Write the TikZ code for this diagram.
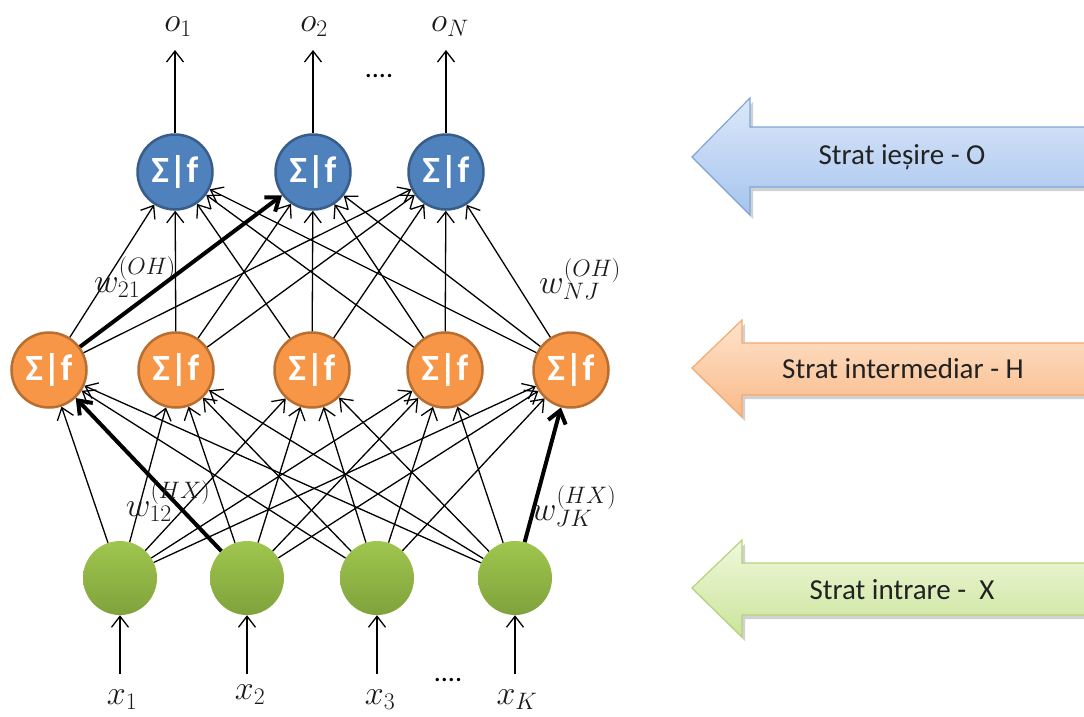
\RequirePackage{fix-cm}
\documentclass[tikz,border=0pt]{standalone}
\usepackage{fontspec}
\setmainfont{Carlito}
\usetikzlibrary{arrows.meta}
\definecolor{bluefill}{HTML}{4F81BD}
\definecolor{blueline}{HTML}{385D8A}
\definecolor{orfill}{HTML}{F79646}
\definecolor{orline}{HTML}{B86E30}
\definecolor{grtop}{HTML}{9FC64E}
\definecolor{grbot}{HTML}{80A23C}
\definecolor{baTop}{HTML}{DCE8F9}
\definecolor{baBot}{HTML}{A6C4EE}
\definecolor{baLine}{HTML}{7EA6D8}
\definecolor{oaTop}{HTML}{FEE3CC}
\definecolor{oaBot}{HTML}{F9BA88}
\definecolor{oaLine}{HTML}{F5A96E}
\definecolor{gaTop}{HTML}{EFF8DC}
\definecolor{gaBot}{HTML}{CBE49A}
\definecolor{gaLine}{HTML}{B4D47A}
\definecolor{txt}{HTML}{222222}
\definecolor{mathcol}{HTML}{1A1A1A}
\begin{document}
\begin{tikzpicture}[x=1pt,y=-1pt,
  neuron/.style={circle,minimum size=75pt,inner sep=0pt,text=white,
    font=\fontsize{37}{39}\selectfont\bfseries},
  outn/.style={neuron,fill=bluefill,draw=blueline,line width=2.5pt},
  hidn/.style={neuron,fill=orfill,draw=orline,line width=2.5pt},
  inn/.style={circle,minimum size=74pt,inner sep=0pt,top color=grtop,bottom color=grbot},
  edge/.style={-{Straight Barb[length=11pt,width=17pt]},line width=1.3pt,black},
  thick edge/.style={-{Straight Barb[length=12pt,width=18pt]},line width=4pt,black},
  mathlbl/.style={font=\fontsize{34}{36}\selectfont,inner sep=0pt,text=mathcol},
  layerlbl/.style={font=\fontsize{29}{31}\selectfont,text=txt,inner sep=0pt},
  dots/.style={font=\fontsize{28}{30}\selectfont,inner sep=0pt}
]
\useasboundingbox (0,0) rectangle (1084,716);

% ---------- block arrows ----------
\fill[black,opacity=.18] (695,161) -- (753,102) -- (753,131) -- (1090,131) -- (1090,191) -- (753,191) -- (753,219) -- cycle;
\shade[top color=baTop,bottom color=baBot] (692,157) -- (750,98) -- (750,127) -- (1090,127) -- (1090,187) -- (750,187) -- (750,215) -- cycle;
\draw[baLine,line width=1.2pt] (1090,127) -- (750,127) -- (750,98) -- (692,157) -- (750,215) -- (750,187) -- (1090,187);
\node[layerlbl] (lo) at (902,157) {Strat ieșire - O};

\fill[black,opacity=.18] (695,372) -- (745,324) -- (745,347) -- (1090,347) -- (1090,399) -- (745,399) -- (745,421) -- cycle;
\shade[top color=oaTop,bottom color=oaBot] (692,368) -- (742,320) -- (742,343) -- (1090,343) -- (1090,395) -- (742,395) -- (742,417) -- cycle;
\draw[oaLine,line width=1.2pt] (1090,343) -- (742,343) -- (742,320) -- (692,368) -- (742,417) -- (742,395) -- (1090,395);
\node[layerlbl] (lh) at (903,369) {Strat intermediar - H};

\fill[black,opacity=.18] (695,592) -- (745,544) -- (745,567) -- (1090,567) -- (1090,619) -- (745,619) -- (745,641) -- cycle;
\shade[top color=gaTop,bottom color=gaBot] (692,588) -- (742,540) -- (742,563) -- (1090,563) -- (1090,615) -- (742,615) -- (742,637) -- cycle;
\draw[gaLine,line width=1.2pt] (1090,563) -- (742,563) -- (742,540) -- (692,588) -- (742,637) -- (742,615) -- (1090,615);
\node[layerlbl] (lx) at (902,590) {Strat intrare -\ \ X};

% ---------- neurons ----------
\node[outn] (o1) at (175,172) {Σ|f};
\node[outn] (o2) at (313,172) {Σ|f};
\node[outn] (o3) at (446,172) {Σ|f};

\node[hidn] (h1) at (49,370) {Σ|f};
\node[hidn] (h2) at (176,370) {Σ|f};
\node[hidn] (h3) at (312,370) {Σ|f};
\node[hidn] (h4) at (445,370) {Σ|f};
\node[hidn] (h5) at (571,370) {Σ|f};

\node[inn] (x1) at (120,578) {};
\node[inn] (x2) at (247,578) {};
\node[inn] (x3) at (377,578) {};
\node[inn] (x4) at (515,578) {};

% ---------- connections ----------
\foreach \i/\j in {1/1,1/2,1/3,1/4,1/5,2/2,2/3,2/4,2/5,3/1,3/2,3/3,3/4,3/5,4/1,4/2,4/3,4/4}
  \draw[edge] (x\i) -- (h\j);
\foreach \i/\j in {1/1,1/3,2/1,2/2,2/3,3/1,3/2,3/3,4/1,4/2,4/3,5/1,5/2,5/3}
  \draw[edge] (h\i) -- (o\j);
\draw[thick edge] (x2) -- (h1);
\draw[thick edge] (x4) -- (h5);
\draw[thick edge] (h1) -- (o2);

% ---------- inputs ----------
\foreach \k/\xx in {1/120,2/247,3/377,4/515} {
  \coordinate (xs\k) at (\xx,674);
  \draw[edge] (xs\k) -- (x\k);
}
\node[mathlbl] (lx1) at (122,700) {$x_1$};
\node[mathlbl] (lx2) at (250,695) {$x_2$};
\node[mathlbl] (lx3) at (380,700) {$x_3$};
\node[mathlbl] (lx4) at (517,700) {$x_K$};
\node[dots] (bdots) at (448,680) {....};

% ---------- outputs ----------
\foreach \k/\xx in {1/175,2/313,3/446} {
  \coordinate (os\k) at (\xx,50);
  \draw[edge] (o\k) -- (os\k);
}
\node[mathlbl] (lo1) at (178,27) {$o_1$};
\node[mathlbl] (lo2) at (314,27) {$o_2$};
\node[mathlbl] (lo3) at (450,27) {$o_N$};
\node[dots] (tdots) at (379,76) {....};

% ---------- weight labels ----------
\node[mathlbl] (w21) at (135,277) {$w_{21}^{(OH)}$};
\node[mathlbl] (wnj) at (580,279) {$w_{NJ}^{(OH)}$};
\node[mathlbl] (w12) at (168,501) {$w_{12}^{(HX)}$};
\node[mathlbl] (wjk) at (574,506) {$w_{JK}^{(HX)}$};
\end{tikzpicture}
\end{document}
